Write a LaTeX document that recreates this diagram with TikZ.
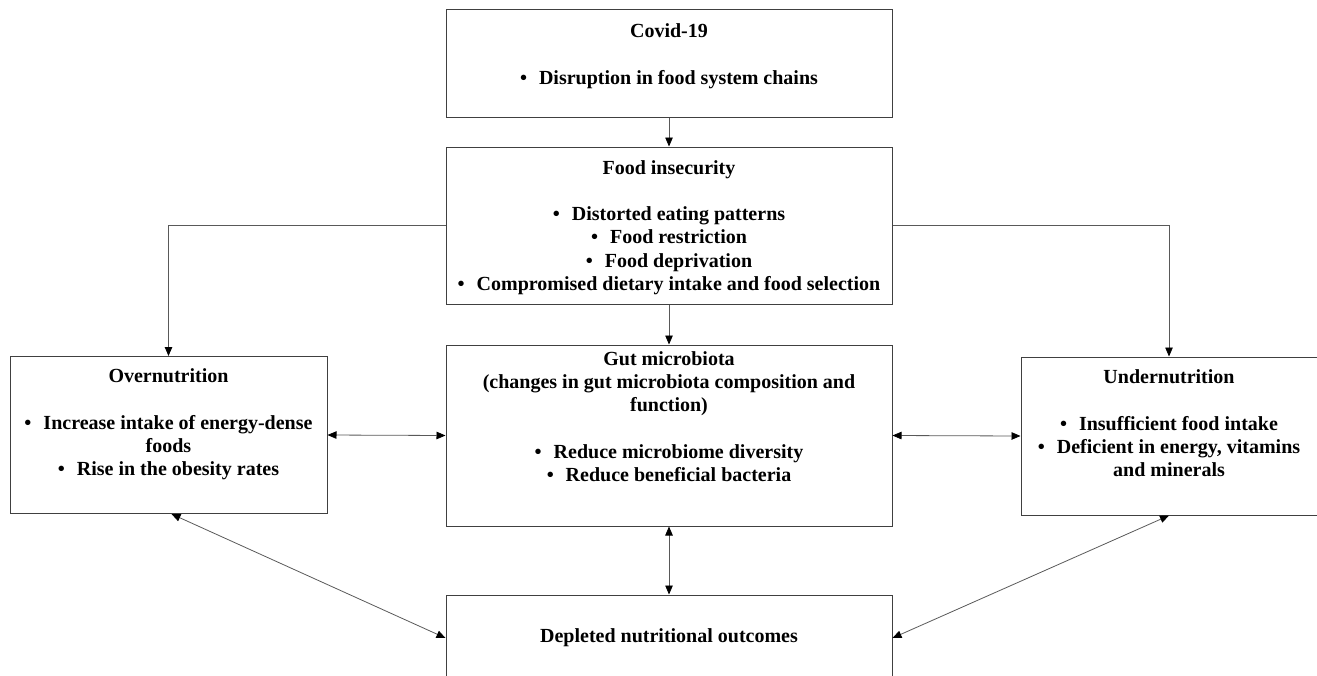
\documentclass[tikz,border=0pt]{standalone}
\usepackage{fontspec}
\setmainfont{Liberation Serif}
\usetikzlibrary{arrows.meta,positioning,calc}
\newcommand{\bul}{\textbullet\hspace{0.6em}}
\begin{document}
\begin{tikzpicture}[x=1pt,y=-1pt,>={Triangle[length=9pt,width=7.5pt,color=black]},
 font=\fontsize{20}{23.3}\selectfont\bfseries,
 box/.style={draw=black!75,line width=1pt,fill=white,inner sep=0pt},
 txt/.style={align=center,inner sep=0pt},
 arr/.style={->,draw=black!65,line width=.8pt}]
\useasboundingbox (0,0) rectangle (1317,675);
% boxes
\node[box,minimum width=446,minimum height=108] (covid) at (669,63) {};
\node[box,minimum width=446,minimum height=157] (food) at (669,225.5) {};
\node[box,minimum width=317,minimum height=157] (over) at (168.5,435) {};
\node[box,minimum width=446,minimum height=181] (gut) at (669,435.5) {};
\node[box,minimum width=296,minimum height=158] (under) at (1169,436) {};
\node[box,minimum width=446,minimum height=86] (depl) at (669,638) {};
% texts
\node[txt] (covidtxt) at (669,56) {Covid-19\\ \\ \bul Disruption in food system chains};
\node[txt] (foodtxt) at (669,227.5) {Food insecurity\\ \\ \bul Distorted eating patterns\\
 \bul Food restriction\\ \bul Food deprivation\\ \bul Compromised dietary intake and food selection};
\node[txt] (overtxt) at (168.5,424.5) {Overnutrition\\ \\ \bul Increase intake of energy-dense\\
 foods\\ \bul Rise in the obesity rates};
\node[txt] (guttxt) at (669,416.5) {Gut microbiota\\ (changes in gut microbiota composition and\\
 function)\\ \\ \bul Reduce microbiome diversity\\ \bul Reduce beneficial bacteria};
\node[txt] (undertxt) at (1169,423.5) {Undernutrition\\ \\ \bul Insufficient food intake\\
 \bul Deficient in energy, vitamins\\ and minerals};
\node[txt] (depltxt) at (669,638) {Depleted nutritional outcomes};
% connectors
\draw[arr] (covid)--(food);
\draw[arr] (food)--(gut);
\draw[arr] (food.west) -| (over.north);
\draw[arr] (food.east) -| (under.north);
\draw[arr,<->] (over.east)--(gut.west);
\draw[arr,<->] (gut.east)--(under.west);
\draw[arr,<->] (gut.south)--(depl.north);
\draw[arr,<->] ($(over.south)+(3,0)$)--(depl.west);
\draw[arr,<->] (under.south)--(depl.east);
\end{tikzpicture}
\end{document}
